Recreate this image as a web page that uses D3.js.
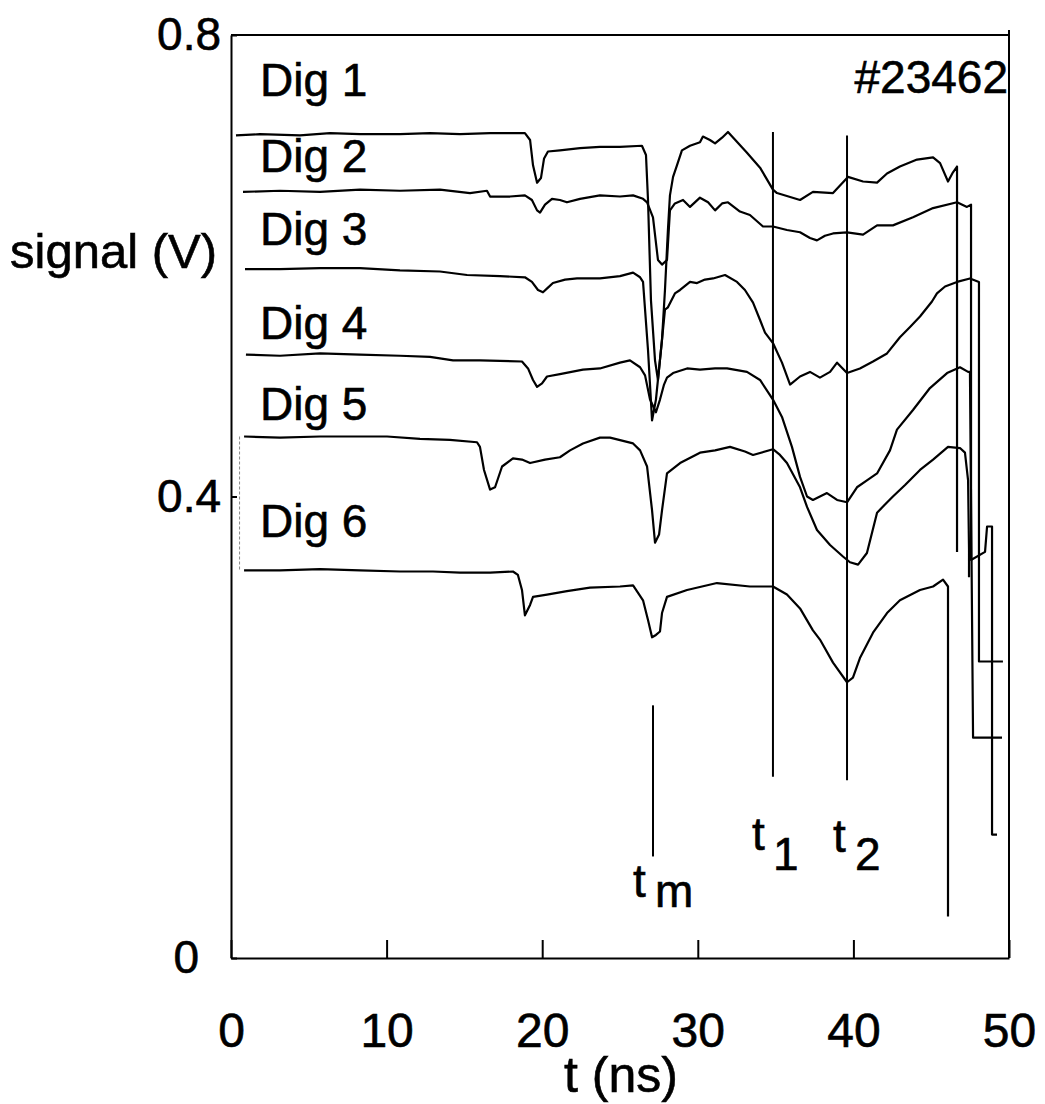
<!DOCTYPE html>
<html>
<head>
<meta charset="utf-8">
<script src="https://cdn.jsdelivr.net/npm/d3@7"></script>
<style>
  body { margin: 0; background: #fff; }
  svg text { font-family: "Liberation Sans", Arial, Helvetica, sans-serif; fill: #000; stroke: #000; stroke-width: 0.6px; }
</style>
</head>
<body>
<svg width="1045" height="1104"></svg>
<script>
// Digitizer traces, [t (ns), signal (V)]
const dig1 = [
  [0.32, 0.713], [1.86, 0.714], [4.43, 0.713], [6.36, 0.715], [8.29, 0.714], [10.86, 0.714],
  [12.79, 0.715], [14.72, 0.714], [16.65, 0.715], [18.89, 0.715], [19.22, 0.709], [19.41, 0.687],
  [19.67, 0.672], [19.92, 0.676], [20.12, 0.693], [20.37, 0.699], [21.14, 0.700], [22.43, 0.702],
  [23.71, 0.703], [25.00, 0.703], [26.41, 0.704], [26.67, 0.696], [26.80, 0.657], [26.99, 0.570],
  [27.25, 0.518], [27.44, 0.501], [27.70, 0.536], [27.89, 0.579], [28.08, 0.631], [28.21, 0.661],
  [28.41, 0.677], [28.66, 0.687], [28.98, 0.700], [29.50, 0.704], [30.14, 0.707], [30.33, 0.712],
  [30.78, 0.709], [31.11, 0.706], [31.56, 0.711], [31.94, 0.716], [33.16, 0.698], [34.00, 0.685],
  [34.83, 0.666], [35.09, 0.663], [36.57, 0.657], [37.40, 0.664], [38.69, 0.663], [39.65, 0.677],
  [40.62, 0.673], [41.52, 0.672], [42.16, 0.680], [42.99, 0.686], [44.09, 0.692], [45.12, 0.694],
  [45.57, 0.689], [46.08, 0.673], [46.40, 0.681], [46.66, 0.686], [46.66, 0.352]
];
const dig2 = [
  [0.77, 0.664], [3.15, 0.665], [5.72, 0.664], [8.29, 0.666], [10.86, 0.665], [13.43, 0.666],
  [15.36, 0.663], [16.45, 0.665], [16.65, 0.660], [17.93, 0.660], [18.89, 0.661], [19.34, 0.657],
  [19.67, 0.648], [19.86, 0.646], [20.18, 0.653], [20.63, 0.658], [21.14, 0.657], [21.59, 0.655],
  [22.43, 0.658], [23.71, 0.661], [25.00, 0.660], [25.84, 0.661], [26.48, 0.658], [26.74, 0.655],
  [27.12, 0.642], [27.44, 0.605], [27.70, 0.601], [28.02, 0.605], [28.21, 0.648], [28.53, 0.654],
  [29.05, 0.657], [29.50, 0.651], [30.14, 0.659], [30.66, 0.655], [31.11, 0.648], [31.56, 0.654],
  [31.94, 0.655], [32.71, 0.647], [33.35, 0.644], [34.19, 0.634], [34.83, 0.634], [35.73, 0.631],
  [36.57, 0.629], [37.21, 0.624], [37.66, 0.622], [38.17, 0.626], [38.69, 0.628], [39.59, 0.629],
  [40.62, 0.627], [41.52, 0.635], [42.54, 0.635], [43.83, 0.642], [45.12, 0.650], [46.66, 0.655],
  [47.30, 0.651], [47.56, 0.653], [47.56, 0.345], [48.46, 0.352], [48.59, 0.374], [48.91, 0.374],
  [48.91, 0.107], [49.23, 0.107]
];
const dig3 = [
  [0.90, 0.597], [3.15, 0.597], [5.72, 0.598], [8.29, 0.598], [10.86, 0.596], [13.43, 0.595],
  [15.17, 0.592], [17.29, 0.591], [18.89, 0.590], [19.34, 0.586], [19.73, 0.579], [20.05, 0.577],
  [20.37, 0.581], [20.69, 0.585], [21.47, 0.588], [22.24, 0.589], [23.71, 0.589], [25.00, 0.591],
  [25.84, 0.594], [26.29, 0.590], [26.48, 0.586], [26.80, 0.527], [27.06, 0.466], [27.31, 0.484],
  [27.70, 0.536], [27.89, 0.562], [28.08, 0.564], [28.53, 0.576], [28.86, 0.579], [29.50, 0.586],
  [29.95, 0.585], [30.46, 0.588], [30.98, 0.589], [31.75, 0.592], [32.52, 0.586], [33.03, 0.579],
  [33.55, 0.568], [34.00, 0.553], [34.32, 0.542], [34.83, 0.533], [35.41, 0.516], [35.93, 0.497],
  [36.57, 0.504], [37.21, 0.508], [37.85, 0.503], [38.50, 0.508], [38.95, 0.516], [39.59, 0.507],
  [40.42, 0.511], [41.26, 0.517], [42.16, 0.524], [42.99, 0.538], [43.64, 0.547], [44.28, 0.556],
  [45.05, 0.569], [45.37, 0.576], [45.89, 0.582], [46.66, 0.586], [47.49, 0.589], [48.07, 0.586],
  [48.07, 0.257], [49.61, 0.257]
];
const dig4 = [
  [0.96, 0.523], [3.15, 0.522], [5.72, 0.524], [8.29, 0.523], [10.86, 0.522], [12.79, 0.521],
  [14.27, 0.518], [16.00, 0.518], [18.70, 0.517], [19.09, 0.511], [19.41, 0.501], [19.67, 0.495],
  [19.99, 0.498], [20.31, 0.504], [21.14, 0.506], [22.62, 0.510], [23.71, 0.511], [25.00, 0.516],
  [25.64, 0.518], [26.29, 0.512], [26.61, 0.505], [26.93, 0.484], [27.31, 0.473], [27.57, 0.484],
  [27.83, 0.497], [28.02, 0.503], [28.41, 0.507], [29.31, 0.511], [30.14, 0.510], [31.11, 0.511],
  [31.88, 0.511], [33.16, 0.508], [34.00, 0.501], [34.83, 0.484], [35.41, 0.469], [36.05, 0.443],
  [36.57, 0.417], [37.02, 0.400], [37.40, 0.397], [37.85, 0.400], [38.30, 0.403], [38.95, 0.397],
  [39.59, 0.395], [40.23, 0.408], [40.87, 0.414], [41.52, 0.420], [42.35, 0.440], [42.80, 0.458],
  [43.83, 0.475], [44.92, 0.494], [46.02, 0.507], [46.85, 0.512], [47.37, 0.508], [47.49, 0.508],
  [47.69, 0.191], [49.55, 0.191]
];
const dig5 = [
  [0.84, 0.452], [3.15, 0.451], [5.72, 0.452], [8.29, 0.452], [10.03, 0.452], [12.15, 0.450],
  [14.07, 0.449], [15.81, 0.447], [16.00, 0.443], [16.26, 0.423], [16.65, 0.406], [16.97, 0.408],
  [17.42, 0.426], [18.12, 0.433], [18.70, 0.432], [19.22, 0.429], [20.18, 0.432], [21.14, 0.434],
  [21.79, 0.440], [22.62, 0.446], [23.71, 0.451], [24.36, 0.451], [25.84, 0.446], [26.29, 0.440],
  [26.74, 0.426], [27.06, 0.388], [27.25, 0.360], [27.51, 0.367], [27.70, 0.388], [28.02, 0.420],
  [28.86, 0.429], [30.14, 0.438], [31.11, 0.440], [32.07, 0.443], [33.03, 0.439], [33.55, 0.436],
  [34.83, 0.441], [35.28, 0.436], [35.73, 0.429], [36.57, 0.408], [37.02, 0.391], [37.66, 0.371],
  [38.50, 0.358], [39.33, 0.348], [39.78, 0.343], [40.30, 0.341], [40.87, 0.351], [41.52, 0.386],
  [42.03, 0.393], [42.54, 0.400], [43.32, 0.410], [44.28, 0.423], [45.12, 0.432], [46.08, 0.443],
  [46.85, 0.442], [47.17, 0.438], [47.37, 0.414], [47.43, 0.354], [47.43, 0.330]
];
const dig6 = [
  [0.84, 0.336], [3.15, 0.336], [5.72, 0.337], [8.29, 0.336], [10.86, 0.335], [12.98, 0.335],
  [14.72, 0.334], [16.65, 0.334], [18.12, 0.335], [18.44, 0.332], [18.70, 0.319], [18.89, 0.297],
  [19.22, 0.306], [19.41, 0.313], [20.31, 0.315], [21.59, 0.318], [23.07, 0.321], [25.00, 0.322],
  [25.84, 0.323], [26.48, 0.310], [26.80, 0.293], [27.06, 0.278], [27.31, 0.280], [27.57, 0.283],
  [27.70, 0.299], [28.02, 0.313], [29.31, 0.319], [31.23, 0.325], [33.35, 0.322], [34.83, 0.322],
  [35.73, 0.315], [36.57, 0.303], [37.40, 0.284], [37.85, 0.276], [38.69, 0.256], [39.59, 0.239],
  [39.97, 0.243], [40.42, 0.260], [41.26, 0.282], [42.16, 0.299], [42.99, 0.310], [44.28, 0.319],
  [45.12, 0.322], [45.76, 0.328], [46.08, 0.322], [46.08, 0.036]
];
const traces = [dig1, dig2, dig3, dig4, dig5, dig6];
const traceNames = ["Dig 1", "Dig 2", "Dig 3", "Dig 4", "Dig 5", "Dig 6"];

// time markers: t, upper and lower end of the line (V)
const markerNames = ["m", "1", "2"];
const markerTimes = [27.12, 34.83, 39.59];
const markerTop = [0.219, 0.716, 0.713];
const markerBottom = [0.088, 0.157, 0.154];

const xTicks = [0, 10, 20, 30, 40, 50];
const yTicks = [0, 0.4, 0.8];
const shotLabel = "#23462";

const svg = d3.select("svg");
const font = 46;

const x = d3.scaleLinear().domain([0, 50]).range([231, 1009]);
const y = d3.scaleLinear().domain([0, 0.8]).range([958, 35]);

// frame: top and right edges
svg.append("line")
  .attr("x1", x(0)).attr("x2", x(50))
  .attr("y1", y(0.8)).attr("y2", y(0.8))
  .attr("stroke", "#000").attr("stroke-width", 2);
svg.append("line")
  .attr("x1", x(50)).attr("x2", x(50))
  .attr("y1", y(0.8) - 5).attr("y2", y(0))
  .attr("stroke", "#000").attr("stroke-width", 2);

// x axis, ticks point inward
const xAxis = svg.append("g")
  .attr("transform", `translate(0,${y(0)})`)
  .call(d3.axisBottom(x).tickValues(xTicks).tickSize(-18).tickSizeOuter(0)
    .tickPadding(55).tickFormat(d3.format("d")));

// y axis
const yAxis = svg.append("g")
  .attr("transform", `translate(${x(0)},0)`)
  .call(d3.axisLeft(y).tickValues(yTicks).tickSize(-6).tickSizeOuter(0)
    .tickPadding(10).tickFormat((d) => (d === 0 ? "0" : d3.format(".1f")(d))));
yAxis.selectAll(".tick text").filter((d) => d === 0).attr("x", -32);

[xAxis, yAxis].forEach((g) => {
  g.attr("font-size", font).attr("font-family", null);
  g.selectAll("path, line").attr("stroke", "#000").attr("stroke-width", 2);
  g.selectAll("text").attr("fill", "#000");
});
xAxis.attr("font-size", 48);

// faint dotted bracket joining the Dig 5 and Dig 6 baselines
const bracket = svg.append("g")
  .attr("stroke", "#888").attr("stroke-width", 1).attr("stroke-dasharray", "3,2");
bracket.append("line")
  .attr("x1", x(0.55)).attr("x2", x(0.55))
  .attr("y1", y(dig5[0][1])).attr("y2", y(dig6[0][1]));

// traces
const line = d3.line().x((d) => x(d[0])).y((d) => y(d[1]));
svg.append("g")
  .selectAll("path")
  .data(traces)
  .enter()
  .append("path")
  .attr("d", line)
  .attr("fill", "none")
  .attr("stroke", "#000")
  .attr("stroke-width", 2.2)
  .attr("stroke-linejoin", "round");

// time marker lines
svg.append("g")
  .selectAll("line")
  .data(markerTimes)
  .enter()
  .append("line")
  .attr("x1", (d) => x(d)).attr("x2", (d) => x(d))
  .attr("y1", (d, i) => y(markerTop[i]))
  .attr("y2", (d, i) => y(markerBottom[i]))
  .attr("stroke", "#000").attr("stroke-width", 2);

// trace names
const nameBaselines = [96, 172, 245, 339, 420, 537];
svg.append("g")
  .selectAll("text")
  .data(traceNames)
  .enter()
  .append("text")
  .attr("x", 260)
  .attr("y", (d, i) => nameBaselines[i])
  .attr("font-size", font)
  .text((d) => d);

svg.append("text")
  .attr("x", x(50) - 1).attr("y", 93)
  .attr("text-anchor", "end")
  .attr("font-size", font)
  .text(shotLabel);

// marker labels: t with subscript
const markerLabelPos = [
  { tx: 633, ty: 897, sx: 655, sy: 907 },
  { tx: 752, ty: 850, sx: 773, sy: 870 },
  { tx: 833, ty: 852, sx: 855, sy: 870 }
];
markerNames.forEach((name, i) => {
  const p = markerLabelPos[i];
  svg.append("text").attr("x", p.tx).attr("y", p.ty).attr("font-size", font).text("t");
  svg.append("text").attr("x", p.sx).attr("y", p.sy).attr("font-size", font).text(name);
});

// axis titles
svg.append("text")
  .attr("x", 217).attr("y", 268)
  .attr("text-anchor", "end")
  .attr("font-size", 49)
  .text("signal (V)");
svg.append("text")
  .attr("x", 621).attr("y", 1092)
  .attr("text-anchor", "middle")
  .attr("font-size", 50)
  .text("t (ns)");
</script>
</body>
</html>
